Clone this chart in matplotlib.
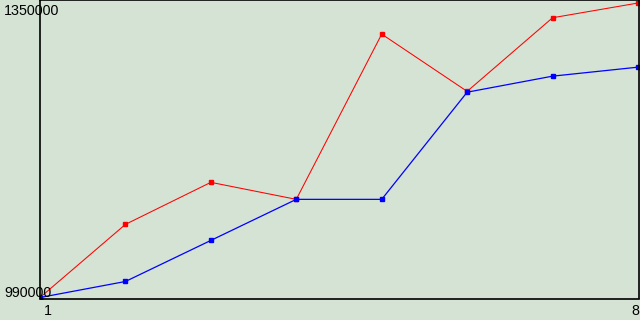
import matplotlib
matplotlib.use("Agg")
import matplotlib.pyplot as plt

x_values = [1, 2, 3, 4, 5, 6, 7, 8]
red_series = [990000, 1079400, 1130800, 1110000, 1312000, 1242000, 1332000, 1350000]
blue_series = [990000, 1009600, 1059800, 1110000, 1110000, 1241000, 1260600, 1271600]
y_labels = ["990000", "1350000"]
x_labels = ["1", "8"]

bg = "#d4e3d4"
W, H = 640, 320
fig = plt.figure(figsize=(6.4, 3.2), dpi=100, facecolor=bg)
ax = fig.add_axes([40 / W, 1 - 298.5 / H, 599 / W, 298.5 / H])
ax.set_facecolor(bg)

ax.plot(x_values, red_series, color="#ff0000", lw=0.75, marker="s", ms=2.2,
        mec="#ff0000", mfc="#ff0000")
ax.plot(x_values, blue_series, color="#0000ff", lw=0.9, marker="s", ms=2.4,
        mec="#0000ff", mfc="#0000ff")

ax.set_xlim(1, 8 + 1 / 598 * 7)
ax.set_ylim(988800, 1353700)
ax.set_xticks([])
ax.set_yticks([])
for s in ax.spines.values():
    s.set_visible(True)
    s.set_color("black")
    s.set_linewidth(1.2)

font = dict(family="Liberation Sans", size=10.3, color="#000000")
fig.text(4 / W, 1 - 15 / H, y_labels[1], ha="left", va="baseline", **font)
fig.text(4 / W, 1 - 297 / H, y_labels[0], ha="left", va="baseline", **font)
fig.text(44 / W, 1 - 315 / H, x_labels[0], ha="left", va="baseline", **font)
fig.text(639 / W, 1 - 315 / H, x_labels[1], ha="right", va="baseline", **font)

fig.savefig("out.png", dpi=100, facecolor=bg)
